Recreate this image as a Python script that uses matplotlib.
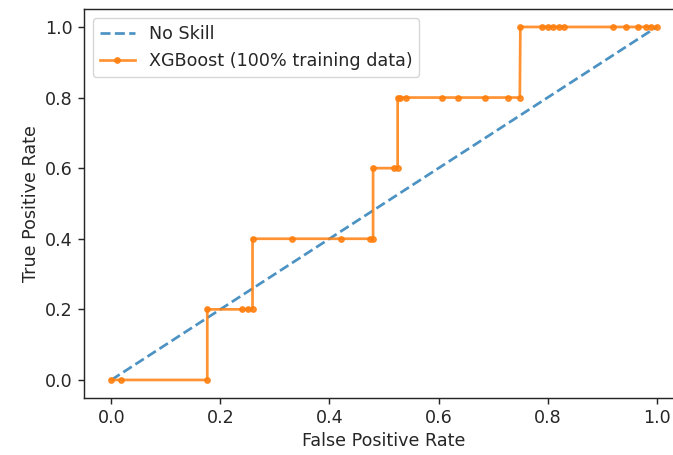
import matplotlib
matplotlib.use("Agg")
import matplotlib.pyplot as plt

# no skill reference line
ns_fpr = [0, 1]
ns_tpr = [0, 1]

# XGBoost ROC curve points
fpr = [0.0, 0.017, 0.176, 0.176, 0.239, 0.25, 0.259, 0.259, 0.332, 0.422,
       0.475, 0.48, 0.48, 0.519, 0.525, 0.525, 0.53, 0.54, 0.607, 0.635,
       0.686, 0.728, 0.749, 0.75, 0.789, 0.80, 0.81, 0.82, 0.83, 0.92,
       0.943, 0.965, 0.98, 0.99, 1.0]
tpr = [0.0, 0.0, 0.0, 0.2, 0.2, 0.2, 0.2, 0.4, 0.4, 0.4,
       0.4, 0.4, 0.6, 0.6, 0.6, 0.8, 0.8, 0.8, 0.8, 0.8,
       0.8, 0.8, 0.8, 1.0, 1.0, 1.0, 1.0, 1.0, 1.0, 1.0,
       1.0, 1.0, 1.0, 1.0, 1.0]

s = 1.3  # picture was scaled up
plt.rcParams['font.size'] = 10 * 1.26
plt.rcParams['text.color'] = '#262626'
plt.rcParams['xtick.color'] = '#262626'
plt.rcParams['ytick.color'] = '#262626'
plt.rcParams['axes.labelcolor'] = '#262626'
plt.rcParams['axes.edgecolor'] = '#262626'
plt.rcParams['axes.linewidth'] = 0.8 * s
plt.rcParams['xtick.major.size'] = 3.5 * s
plt.rcParams['ytick.major.size'] = 3.5 * s
plt.rcParams['xtick.major.width'] = 0.8 * s
plt.rcParams['ytick.major.width'] = 0.8 * s

fig = plt.figure(figsize=(6.73, 4.55), dpi=100)
ax = fig.add_axes([84 / 673, 1 - 397.6 / 455, 600 / 673, 388.3 / 455])

ax.plot(ns_fpr, ns_tpr, linestyle='--', color='tab:blue', alpha=0.8, lw=1.5 * s, label='No Skill')
ax.plot(fpr, tpr, marker='.', color='tab:orange', alpha=0.85, lw=1.5 * s, ms=6 * s,
        label='XGBoost (100% training data)')

ax.set_xlabel('False Positive Rate')
ax.set_ylabel('True Positive Rate')
ax.set_xticks([0.0, 0.2, 0.4, 0.6, 0.8, 1.0])
ax.set_yticks([0.0, 0.2, 0.4, 0.6, 0.8, 1.0])
ax.legend(loc='upper left')

fig.savefig('out.png', dpi=100)
